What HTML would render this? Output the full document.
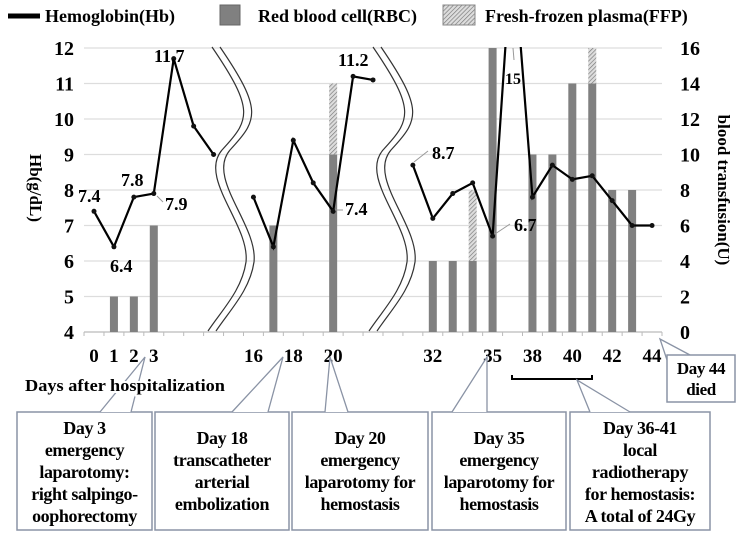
<!DOCTYPE html>
<html><head><meta charset="utf-8"><style>
body{margin:0;background:#fff;}
svg{display:block;font-family:"Liberation Serif",serif;font-weight:bold;}
</style></head><body>
<svg id="chart" width="750" height="538" viewBox="0 0 750 538">
<defs>
<pattern id="hatch" width="3" height="3" patternUnits="userSpaceOnUse" patternTransform="rotate(45)">
<rect width="3" height="3" fill="#ddd"/><line x1="0" y1="0" x2="0" y2="3" stroke="#777" stroke-width="1.3"/>
</pattern>
<clipPath id="plotclip"><rect x="80" y="47" width="590" height="290"/></clipPath>
</defs>
<g>
<line x1="8" y1="16" x2="40" y2="16" stroke="#000" stroke-width="5"/>
<text x="45" y="22" font-size="18">Hemoglobin(Hb)</text>
<rect x="220" y="5" width="20" height="20" fill="#808080" stroke="#666"/>
<text x="258" y="22" font-size="18">Red blood cell(RBC)</text>
<rect x="443" y="5" width="32" height="20" fill="url(#hatch)" stroke="#888"/>
<text x="485" y="22" font-size="18">Fresh-frozen plasma(FFP)</text>
</g>
<g id="grid"></g>
<g id="bars"></g>
<g id="breaks">
<path d="M212,47 C255,110 250,120 222,150 C198,178 250,225 246,262 C242,290 222,310 208,331" fill="none" stroke="#333" stroke-width="1.2"/>
<path d="M220,47 C263,110 258,120 230,150 C206,178 258,225 254,262 C250,290 230,310 216,331" fill="none" stroke="#333" stroke-width="1.2"/>
<path d="M373,47 C416,110 411,120 383,150 C359,178 411,225 407,262 C403,290 383,310 369,331" fill="none" stroke="#333" stroke-width="1.2"/>
<path d="M381,47 C424,110 419,120 391,150 C367,178 419,225 415,262 C411,290 391,310 377,331" fill="none" stroke="#333" stroke-width="1.2"/>
</g>
<g id="line" clip-path="url(#plotclip)"></g>
<g id="axes"></g>
<g font-size="18">
<text x="78" y="202">7.4</text>
<text x="110" y="272">6.4</text>
<text x="121" y="186">7.8</text>
<text x="165" y="210">7.9</text>
<line x1="157" y1="196" x2="163" y2="202" stroke="#999"/>
<text x="154" y="62">11.7</text>
<text x="338" y="66">11.2</text>
<text x="345" y="215">7.4</text>
<line x1="335" y1="210" x2="343" y2="210" stroke="#999"/>
<text x="432" y="159">8.7</text>
<line x1="414" y1="162" x2="428" y2="151" stroke="#999"/>
<text x="514" y="231">6.7</text>
<line x1="495" y1="234" x2="510" y2="224" stroke="#999"/>
<text x="505" y="84" font-size="16">15</text>
<line x1="513" y1="48" x2="514" y2="60" stroke="#999"/>
</g>
<text transform="translate(30,188) rotate(90)" text-anchor="middle" font-size="17">Hb(g/dL)</text>
<text transform="translate(718,190) rotate(90)" text-anchor="middle" font-size="17">blood transfusion(U)</text>
<path d="M512,375 l0,4 l80,0 l0,-4" fill="none" stroke="#000" stroke-width="2"/>
<g id="callouts" font-size="18" text-anchor="middle" letter-spacing="-0.4"></g>
<text x="25" y="391" font-size="17" stroke="#fff" stroke-width="4" paint-order="stroke" textLength="200" lengthAdjust="spacingAndGlyphs">Days after hospitalization</text>
</svg>
<script>
// chart data
const slotLabels = ["0","1","2","3","","","","","16","","18","","20","","","","","32","","","35","","38","","40","","42","","44"];
const hbSegments = [[0,1,2,3,4,5,6],[8,9,10,11,12,13,14],[16,17,18,19,20,21,22,23,24,25,26,27,28]];
const hbSlots = [0,1,2,3,4,5,6,8,9,10,11,12,13,14,16,17,18,19,20,21,22,23,24,25,26,27,28];
const hbValues = [7.4,6.4,7.8,7.9,11.7,9.8,9.0,7.8,6.4,9.4,8.2,7.4,11.2,11.1,8.7,7.2,7.9,8.2,6.7,15,7.8,8.7,8.3,8.4,7.7,7.0,7.0];
const barSlots = [1,2,3,9,12,17,18,19,20,22,23,24,25,26,27];
const rbcValues = [2,2,6,6,10,4,4,4,16,10,10,14,14,8,8];
const ffpValues = [0,0,0,0,4,0,0,4,0,0,0,0,2,0,0];
const leftTicks = [4,5,6,7,8,9,10,11,12];
const rightTicks = [0,2,4,6,8,10,12,14,16];

const NS="http://www.w3.org/2000/svg";
const X0=94, SW=19.93, YT=48, YB=332;
function xs(i){return X0+SW*i;}
function yl(v){return YB-(v-4)/8*(YB-YT);}
function yr(v){return YB-v/16*(YB-YT);}
function mk(tag,attrs,parent){const e=document.createElementNS(NS,tag);for(const k in attrs)e.setAttribute(k,attrs[k]);parent.appendChild(e);return e;}

const grid=document.getElementById('grid');
leftTicks.forEach((t,i)=>{
  const g=mk('line',{x1:84,x2:662,y1:yl(t),y2:yl(t),stroke:i===0?'#bbb':'#ddd','stroke-width':1.2},grid);
  
  
});
const axes=document.getElementById('axes');
leftTicks.forEach(t=>{
  const e=mk('text',{x:74,y:yl(t)+7,'text-anchor':'end','font-size':20},axes);
  e.textContent=t;
  
  
});
rightTicks.forEach(t=>{
  const e=mk('text',{x:680,y:yr(t)+7,'font-size':20},axes);
  e.textContent=t;
  
  
});
for(let i=0;i<=29;i++){
  const tk=mk('line',{x1:X0-SW/2+SW*i,x2:X0-SW/2+SW*i,y1:YB,y2:YB+4,stroke:'#bbb'},axes);
  
  
}
slotLabels.forEach((l,i)=>{
  if(!l)return;
  const e=mk('text',{x:xs(i),y:362,'text-anchor':'middle','font-size':19},axes);
  e.textContent=l;
  
  
});

const bars=document.getElementById('bars');
barSlots.forEach((s,i)=>{
  const r=mk('rect',{x:xs(s)-4,y:yr(rbcValues[i]),width:8,height:YB-yr(rbcValues[i]),fill:'#808080'},bars);
  
  
  if(ffpValues[i]>0){
    const top=rbcValues[i]+ffpValues[i];
    const f=mk('rect',{x:xs(s)-4,y:yr(top),width:8,height:yr(rbcValues[i])-yr(top),fill:'url(#hatch)'},bars);
    
    
  }
});

const lineG=document.getElementById('line');
hbSegments.forEach(seg=>{
  const pts=seg.map(s=>{const k=hbSlots.indexOf(s);return xs(s)+','+yl(hbValues[k]);}).join(' ');
  const p=mk('polyline',{points:pts,fill:'none',stroke:'#000','stroke-width':2.2},lineG);
  
  
});
hbSlots.forEach((s,k)=>{
  const c=mk('circle',{cx:xs(s),cy:yl(hbValues[k]),r:2.5,fill:'#111'},lineG);
  
  
});

const cg=document.getElementById('callouts');
const boxes=[
 {x:17,w:135,lines:["Day 3","emergency","laparotomy:","right salpingo-","oophorectomy"],p:[[100,412],[145,357],[131,412]],y0:434,name:'callout-day3'},
 {x:155,w:134,lines:["Day 18","transcatheter","arterial","embolization"],p:[[232,412],[283,357],[268,412]],y0:444,name:'callout-day18'},
 {x:292,w:136,lines:["Day 20","emergency","laparotomy for","hemostasis"],p:[[325,412],[330,357],[348,412]],y0:444,name:'callout-day20'},
 {x:432,w:134,lines:["Day 35","emergency","laparotomy for","hemostasis"],p:[[452,412],[487,357],[487,412]],y0:444,name:'callout-day35'},
 {x:570,w:140,lines:["Day 36-41","local","radiotherapy","for hemostasis:","A total of 24Gy"],p:[[590,412],[577,380],[630,412]],y0:434,name:'callout-day36-41'}
];
boxes.forEach(b=>{
  const g=mk('g',{},cg);
  
  
  mk('rect',{x:b.x,y:412,width:b.w,height:118,fill:'#fff',stroke:'#8a93a5','stroke-width':1.5},g);
  mk('polyline',{points:b.p.map(q=>q.join(',')).join(' '),fill:'#fff',stroke:'#8a93a5','stroke-width':1.3},g);
  b.lines.forEach((t,i)=>{const e=mk('text',{x:b.x+b.w/2,y:b.y0+i*22},g);e.textContent=t;});
});
const d=mk('g',{},cg);


mk('polyline',{points:'667,360 660,339 690,355',fill:'#fff',stroke:'#8a93a5','stroke-width':1.3},d);
mk('rect',{x:667,y:355,width:68,height:47,fill:'#fff',stroke:'#8a93a5','stroke-width':1.5},d);
[["Day 44",374],["died",395]].forEach(a=>{const e=mk('text',{x:701,y:a[1],'font-size':17},d);e.textContent=a[0];});
</script>
</body></html>
